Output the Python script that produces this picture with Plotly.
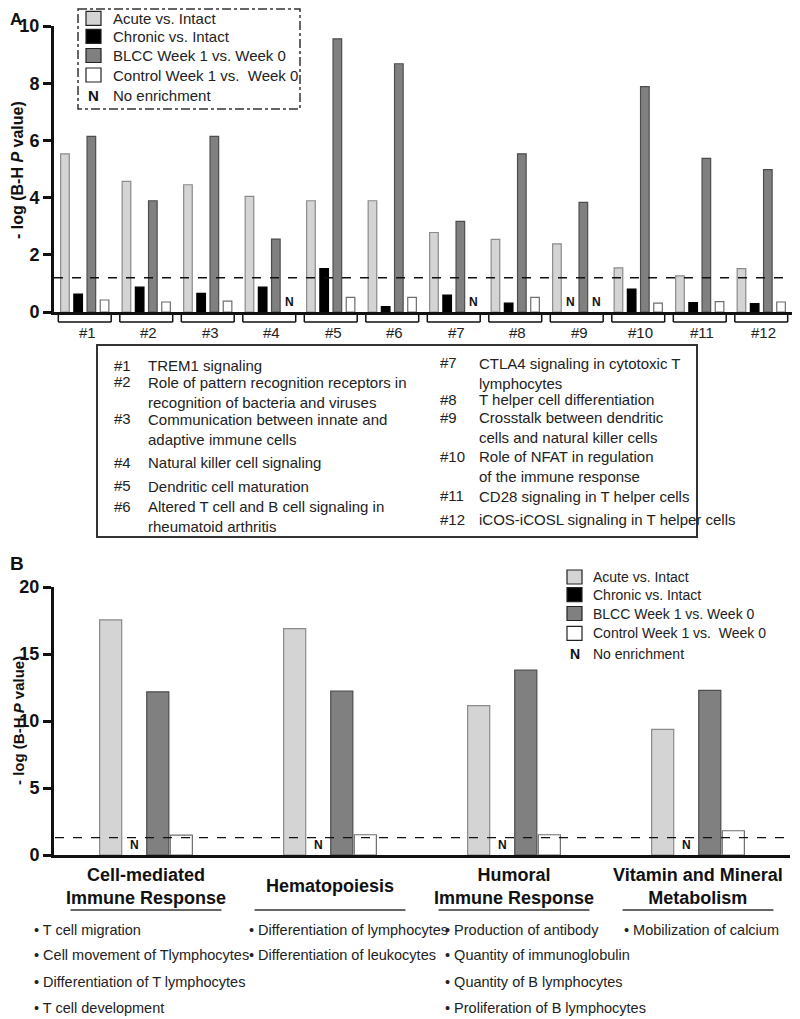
import plotly.graph_objects as go

# the page puts the figure 8 px in from the top-left corner, so the figure is
# 8 px smaller and every layout position below is given in window pixels
OFF = 8
W, H = 800 - OFF, 1019 - OFF

# ---------------- data: panel A (canonical pathways) ----------------
pathways = ["#1", "#2", "#3", "#4", "#5", "#6", "#7", "#8", "#9", "#10", "#11", "#12"]
pathway_names = [
    "TREM1 signaling",
    "Role of pattern recognition receptors in<br>recognition of bacteria and viruses",
    "Communication between innate and<br>adaptive immune cells",
    "Natural killer cell signaling",
    "Dendritic cell maturation",
    "Altered T cell and B cell signaling in<br>rheumatoid arthritis",
    "CTLA4 signaling in cytotoxic T<br>lymphocytes",
    "T helper cell differentiation",
    "Crosstalk between dendritic<br>cells and natural killer cells",
    "Role of NFAT in regulation<br>of the immune response",
    "CD28 signaling in T helper cells",
    "iCOS-iCOSL signaling in T helper cells",
]
acute_a = [5.53, 4.57, 4.45, 4.04, 3.89, 3.89, 2.78, 2.54, 2.38, 1.54, 1.26, 1.52]
chronic_a = [0.63, 0.87, 0.65, 0.87, 1.52, 0.19, 0.59, 0.31, None, 0.80, 0.33, 0.29]
blcc_a = [6.14, 3.89, 6.14, 2.55, 9.55, 8.68, 3.17, 5.53, 3.83, 7.88, 5.37, 4.98]
control_a = [0.42, 0.35, 0.38, None, 0.51, 0.51, None, 0.51, None, 0.31, 0.36, 0.35]
threshold_a = 1.2

# ---------------- data: panel B (functions) ----------------
functions = ["Cell-mediated<br>Immune Response", "Hematopoiesis",
             "Humoral<br>Immune Response", "Vitamin and Mineral<br>Metabolism"]
acute_b = [17.55, 16.89, 11.14, 9.38]
chronic_b = [None, None, None, None]
blcc_b = [12.18, 12.24, 13.79, 12.28]
control_b = [1.49, 1.51, 1.51, 1.81]
threshold_b = 1.3
function_items = [
    ["T cell migration", "Cell movement of Tlymphocytes",
     "Differentiation of T lymphocytes", "T cell development"],
    ["Differentiation of lymphocytes", "Differentiation of leukocytes"],
    ["Production of antibody", "Quantity of immunoglobulin",
     "Quantity of B lymphocytes", "Proliferation of B lymphocytes"],
    ["Mobilization of calcium"],
]

series_names = ["Acute vs. Intact", "Chronic vs. Intact",
                "BLCC Week 1 vs. Week 0", "Control Week 1 vs.  Week 0"]
fills = ["#d4d4d4", "#000000", "#808080", "#ffffff"]
edges = ["#8a8a8a", "#000000", "#4d4d4d", "#6e6e6e"]

FONT = "Liberation Sans, Arial, sans-serif"


def px(x):
    return (x - OFF) / W


def py(y):
    return 1 - (y - OFF) / H


fig = go.Figure()
shapes = []
ann = []


def text(x, y, s, size, xanchor="center", yanchor="middle", **kw):
    ann.append(dict(x=px(x), y=py(y), xref="paper", yref="paper", text=s, showarrow=False,
                    xanchor=xanchor, yanchor=yanchor,
                    font=dict(family=kw.pop("family", FONT), size=size, color=kw.pop("color", "#222")),
                    **kw))


def add_panel(cats, values, xa, ya, slot, width):
    start = -2 * slot + (slot - width) / 2
    for k, vals in enumerate(values):
        off = start + k * slot
        fig.add_trace(go.Bar(
            x=cats, y=vals, xaxis=xa, yaxis=ya, offset=off, width=width,
            marker=dict(color=fills[k], line=dict(color=edges[k], width=1.2)),
            showlegend=False, hoverinfo="skip"))
        for i, v in enumerate(vals):
            if v is None:
                ann.append(dict(x=i + off + width / 2, y=0, xref=xa, yref=ya,
                                text="<b>N</b>", showarrow=False, xanchor="center",
                                yanchor="bottom", yshift=1,
                                font=dict(family=FONT, size=12, color="#111")))


# slot / bar width in category units
add_panel(pathways, [acute_a, chronic_a, blcc_a, control_a], "x", "y", 0.2146, 0.14)
add_panel(functions, [acute_b, chronic_b, blcc_b, control_b], "x2", "y2", 0.128, 0.12)

# threshold lines
shapes.append(dict(type="line", xref="paper", yref="y", x0=px(54), x1=px(795),
                   y0=threshold_a, y1=threshold_a, line=dict(color="#111", width=1.6, dash="dash")))
shapes.append(dict(type="line", xref="paper", yref="y2", x0=px(55), x1=px(790),
                   y0=threshold_b, y1=threshold_b, line=dict(color="#111", width=1.4, dash="dash")))

# brackets + labels under panel A
for i, p in enumerate(pathways):
    x0, x1 = i - 0.43, i + 0.43
    line = dict(color="#111", width=1.5)
    shapes.append(dict(type="line", xref="x", yref="paper", x0=x0, x1=x1,
                       y0=py(322), y1=py(322), line=line))
    for xe in (x0, x1):
        shapes.append(dict(type="line", xref="x", yref="paper", x0=xe, x1=xe,
                           y0=py(322), y1=py(315), line=line))
    ann.append(dict(x=i + 0.04, y=py(333), xref="x", yref="paper", text=p, showarrow=False,
                    xanchor="center", yanchor="middle",
                    font=dict(family=FONT, size=15, color="#222")))

# pathway table
shapes.append(dict(type="rect", xref="paper", yref="paper", x0=px(97), x1=px(697),
                   y0=py(345), y1=py(537), line=dict(color="#333", width=2)))
row_y = [365, 381.7, 419, 462, 485.7, 506, 362.7, 399.3, 417.3, 456, 496, 519.3]
for i, (p, name) in enumerate(zip(pathways, pathway_names)):
    xl, xt = (112, 146) if i < 6 else (438, 477)
    text(xl, row_y[i], p, 15, xanchor="left")
    text(xt, row_y[i] - 10, name, 15, xanchor="left", yanchor="top", align="left")

# panel B category labels, underlines and bullet lists
bullet_x = [32, 247, 443, 622]
bullet_y = [930, 955, 981.7, 1008]
for i, f in enumerate(functions):
    ann.append(dict(x=i, y=py(886), xref="x2", yref="paper", text="<b>" + f + "</b>",
                    showarrow=False, xanchor="center", yanchor="middle",
                    font=dict(family=FONT, size=18, color="#111")))
    shapes.append(dict(type="line", xref="x2", yref="paper", x0=i - 0.41, x1=i + 0.41,
                       y0=py(910), y1=py(910), line=dict(color="#333", width=1.5)))
    for j, item in enumerate(function_items[i]):
        text(bullet_x[i], bullet_y[j], "• " + item, 14.5, xanchor="left")


def legend(x_sw, x_txt, rows, n_y, size):
    for k, name in enumerate(series_names):
        shapes.append(dict(type="rect", xref="paper", yref="paper",
                           x0=px(x_sw), x1=px(x_sw + 15), y0=py(rows[k] - 7), y1=py(rows[k] + 7),
                           fillcolor=fills[k], line=dict(color="#222", width=1.2)))
        text(x_txt, rows[k], name, size, xanchor="left")
    text(x_sw + 7.5, n_y, "<b>N</b>", size, color="#111")
    text(x_txt, n_y, "No enrichment", size, xanchor="left")


legend(86, 111, [18.3, 36.3, 55.5, 75], 96, 15)
shapes.append(dict(type="rect", xref="paper", yref="paper", x0=px(78), x1=px(300),
                   y0=py(9), y1=py(109), line=dict(color="#333", width=1.5, dash="dashdot")))
legend(567, 591, [577, 594.7, 613.5, 633.3], 654, 14)

# axis titles and panel letters
ytitle = "<b>- log (B-H <i>P</i> value)</b>"
text(18, 170, ytitle, 16, textangle=-90, color="#111")
text(18, 721, ytitle, 15, textangle=-90, color="#111")
text(16, 20, "<b>A</b>", 17, color="#111")
text(17, 563, "<b>B</b>", 19, color="#111")

xcommon = dict(type="category", showline=True, linewidth=3, linecolor="#111", automargin=False,
               ticks="", showticklabels=False, showgrid=False, zeroline=False)
ycommon = dict(showline=True, linewidth=3, linecolor="#111", ticks="outside", ticklen=8,
               tickwidth=2.5, tickcolor="#111", showgrid=False, zeroline=False, automargin=False,
               tickfont=dict(family=FONT, size=18, color="#111"))
ticks_a = [0, 2, 4, 6, 8, 10]
ticks_b = [0, 5, 10, 15, 20]

fig.update_layout(
    width=W, height=H, margin=dict(l=0, r=0, t=0, b=0, autoexpand=False),
    paper_bgcolor="white", plot_bgcolor="white", barmode="overlay",
    xaxis=dict(domain=[px(54), px(792)], anchor="y", range=[-0.5, 11.5], **xcommon),
    yaxis=dict(domain=[py(312), py(26)], anchor="x", range=[0, 10], tickvals=ticks_a,
               ticktext=["<b>%d</b>" % t for t in ticks_a], **ycommon),
    xaxis2=dict(domain=[px(54), px(790)], anchor="y2", range=[-0.5, 3.5], **xcommon),
    yaxis2=dict(domain=[py(855), py(587)], anchor="x2", range=[0, 20], tickvals=ticks_b,
                ticktext=["<b>%d</b>" % t for t in ticks_b], **ycommon),
    shapes=shapes, annotations=ann,
)

fig.write_html("out.html")
